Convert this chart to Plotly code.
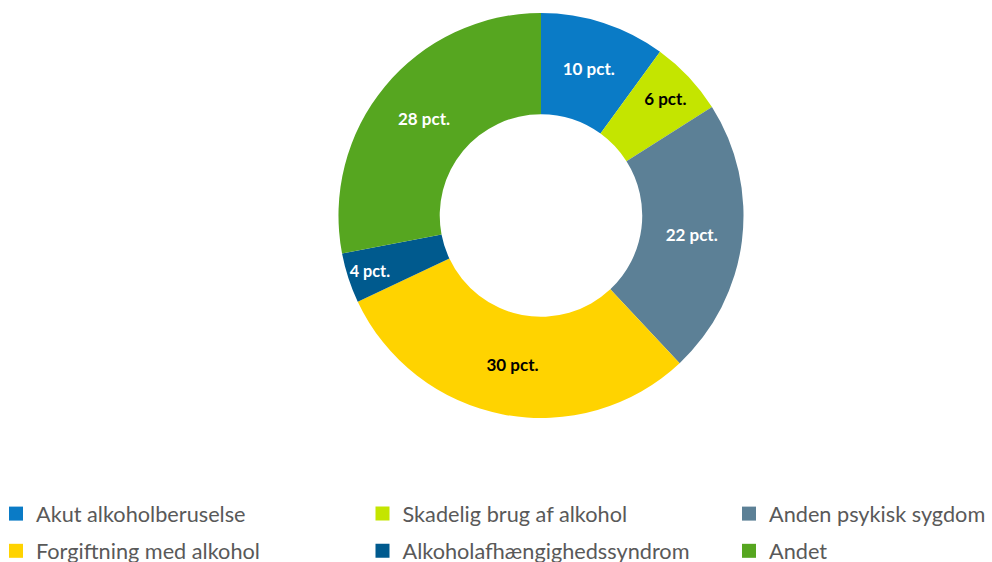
import plotly.graph_objects as go

labels = ["Akut alkoholberuselse", "Skadelig brug af alkohol", "Anden psykisk sygdom",
          "Forgiftning med alkohol", "Alkoholafhængighedssyndrom", "Andet"]
values = [10, 6, 22, 30, 4, 28]
colors = ["#0A7BC6", "#C4E500", "#5C8096", "#FFD300", "#005A8E", "#56A620"]
text_colors = ["white", "black", "white", "black", "white", "white"]
# legend column for each entry (row-major, 3 columns)
legend_cols = ["legend", "legend2", "legend3", "legend", "legend2", "legend3"]

fig = go.Figure()
fig.add_trace(go.Pie(
    labels=labels, values=values, sort=False, direction="clockwise", rotation=0,
    hole=0.5, marker=dict(colors=colors, line=dict(width=0)),
    texttemplate="%{value} pct.", textposition="inside", insidetextorientation="horizontal",
    textfont=dict(family="Lato", size=17, color=text_colors, weight="bold"),
    domain=dict(x=[0.3412, 0.7495], y=[0.2562, 0.9769]),
    showlegend=False, hoverinfo="label+value",
))
for lab, col, lg in zip(labels, colors, legend_cols):
    fig.add_trace(go.Scatter(
        x=[None], y=[None], mode="markers", name=lab, legend=lg, legendgroup=lab,
        marker=dict(symbol="square", size=14, color=col, line=dict(width=0)),
        showlegend=True,
    ))

legend_font = dict(family="Lato", size=21.7, color="#595959")
common = dict(orientation="v", yanchor="top", xanchor="left", y=1 - 493 / 562,
              font=legend_font, bgcolor="rgba(0,0,0,0)", borderwidth=0,
              tracegroupgap=6, itemclick=False, itemdoubleclick=False)
fig.update_layout(
    width=992, height=562,
    margin=dict(l=0, r=0, t=0, b=0, autoexpand=False),
    paper_bgcolor="white", plot_bgcolor="white",
    xaxis=dict(visible=False), yaxis=dict(visible=False),
    legend=dict(x=-4 / 992, **common),
    legend2=dict(x=(388.5 - 26) / 992, **common),
    legend3=dict(x=(759 - 30) / 992, **common),
)
fig.write_html("out.html", config={"displayModeBar": False},
               post_script="document.body.style.margin='0px';")
